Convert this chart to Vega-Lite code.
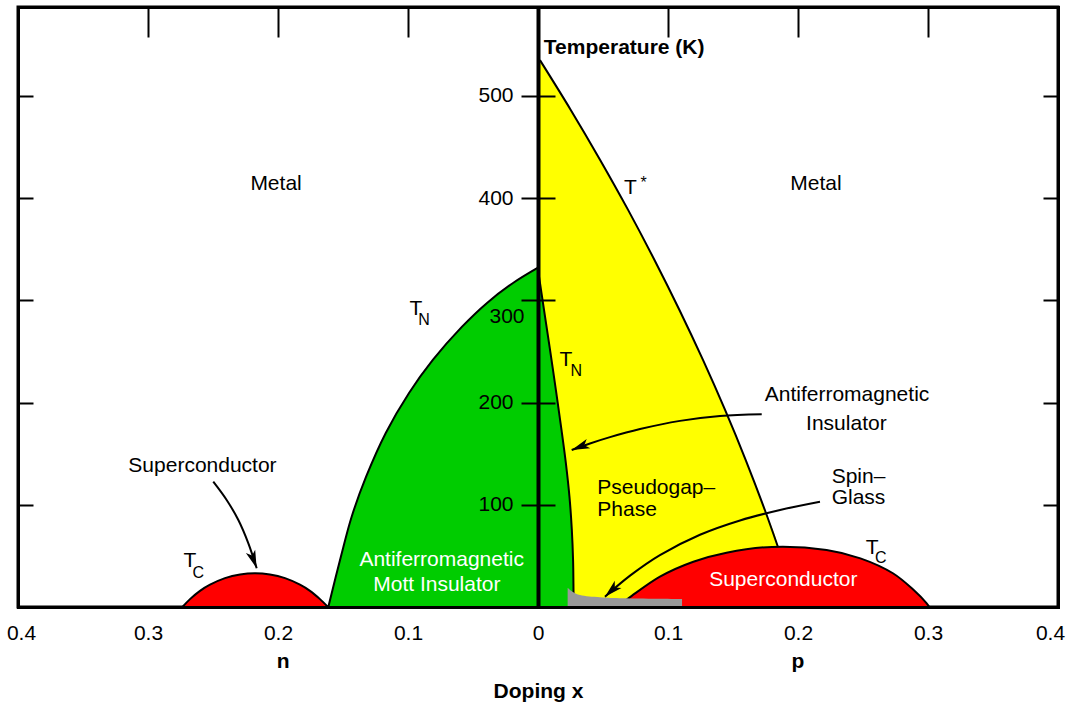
{
  "$schema": "https://vega.github.io/schema/vega-lite/v6.json",
  "width": 1040,
  "height": 600,
  "autosize": {"type": "none"},
  "padding": {"left": 18, "top": 7, "right": 12, "bottom": 100},
  "background": "white",
  "config": {
    "font": "Liberation Sans",
    "view": {"stroke": "black", "strokeWidth": 3},
    "axis": {"grid": false}
  },
  "datasets": {
    "curves": [
      {"c": "tnN", "x": -0.1613, "T": 0},
      {"c": "tnN", "x": -0.1517, "T": 48.9},
      {"c": "tnN", "x": -0.1434, "T": 88.1},
      {"c": "tnN", "x": -0.1323, "T": 127.2},
      {"c": "tnN", "x": -0.1171, "T": 170.3},
      {"c": "tnN", "x": -0.0992, "T": 209.4},
      {"c": "tnN", "x": -0.0809, "T": 241.7},
      {"c": "tnN", "x": -0.0586, "T": 274},
      {"c": "tnN", "x": -0.0392, "T": 297.5},
      {"c": "tnN", "x": -0.0192, "T": 317},
      {"c": "tnN", "x": 0, "T": 332},
      {"c": "scN", "x": -0.2735, "T": 0},
      {"c": "scN", "x": -0.2677, "T": 7.7},
      {"c": "scN", "x": -0.26, "T": 15.8},
      {"c": "scN", "x": -0.2523, "T": 21.8},
      {"c": "scN", "x": -0.2408, "T": 28.2},
      {"c": "scN", "x": -0.2292, "T": 31.8},
      {"c": "scN", "x": -0.2177, "T": 33},
      {"c": "scN", "x": -0.2062, "T": 31.8},
      {"c": "scN", "x": -0.1946, "T": 28.2},
      {"c": "scN", "x": -0.1831, "T": 21.8},
      {"c": "scN", "x": -0.1754, "T": 15.8},
      {"c": "scN", "x": -0.1677, "T": 7.7},
      {"c": "scN", "x": -0.1615, "T": 0},
      {"c": "scP", "x": 0.06, "T": 0},
      {"c": "scP", "x": 0.0695, "T": 8.5},
      {"c": "scP", "x": 0.0938, "T": 29.7},
      {"c": "scP", "x": 0.1195, "T": 44.3},
      {"c": "scP", "x": 0.145, "T": 53.1},
      {"c": "scP", "x": 0.18, "T": 58.8},
      {"c": "scP", "x": 0.222, "T": 55.8},
      {"c": "scP", "x": 0.248, "T": 47.6},
      {"c": "scP", "x": 0.273, "T": 33},
      {"c": "scP", "x": 0.289, "T": 16.6},
      {"c": "scP", "x": 0.299, "T": 3.6},
      {"c": "scP", "x": 0.301, "T": 0},
      {"c": "tstar", "x": 0.0015, "T": 535},
      {"c": "tstar", "x": 0.0252, "T": 486.3},
      {"c": "tstar", "x": 0.0478, "T": 437.4},
      {"c": "tstar", "x": 0.0693, "T": 388.5},
      {"c": "tstar", "x": 0.0896, "T": 339.5},
      {"c": "tstar", "x": 0.1088, "T": 290.6},
      {"c": "tstar", "x": 0.1269, "T": 241.7},
      {"c": "tstar", "x": 0.1439, "T": 192.8},
      {"c": "tstar", "x": 0.1598, "T": 143.8},
      {"c": "tstar", "x": 0.1745, "T": 94.9},
      {"c": "tstar", "x": 0.1846, "T": 58.7},
      {"c": "ybase", "x": 0.1846, "T": 0},
      {"c": "tnP", "x": 0, "T": 330},
      {"c": "tnP", "x": 0.0046, "T": 291},
      {"c": "tnP", "x": 0.0092, "T": 252},
      {"c": "tnP", "x": 0.0138, "T": 212},
      {"c": "tnP", "x": 0.0181, "T": 173},
      {"c": "tnP", "x": 0.0215, "T": 140},
      {"c": "tnP", "x": 0.0242, "T": 108},
      {"c": "tnP", "x": 0.026, "T": 76},
      {"c": "tnP", "x": 0.027, "T": 45},
      {"c": "tnP", "x": 0.0273, "T": 17},
      {"c": "tnP", "x": 0.0274, "T": 0},
      {"c": "sg", "x": 0.0228, "T": 18.9},
      {"c": "sg", "x": 0.0269, "T": 14.7},
      {"c": "sg", "x": 0.0323, "T": 11.7},
      {"c": "sg", "x": 0.0477, "T": 9.5},
      {"c": "sg", "x": 0.0654, "T": 8.5},
      {"c": "sg", "x": 0.1108, "T": 7.8}
    ],
    "arrows": [
      {"a": 1, "x": -0.2498, "T": 122.6},
      {"a": 1, "x": -0.2395, "T": 104.7},
      {"a": 1, "x": -0.2305, "T": 85.1},
      {"a": 1, "x": -0.2228, "T": 62.3},
      {"a": 1, "x": -0.2164, "T": 37.9},
      {"a": 2, "x": 0.1721, "T": 188.6},
      {"a": 2, "x": 0.14, "T": 186.9},
      {"a": 2, "x": 0.1092, "T": 182.1},
      {"a": 2, "x": 0.0785, "T": 174.1},
      {"a": 2, "x": 0.0554, "T": 166.2},
      {"a": 2, "x": 0.04, "T": 160},
      {"a": 2, "x": 0.0259, "T": 153.6},
      {"a": 3, "x": 0.2169, "T": 103},
      {"a": 3, "x": 0.1862, "T": 94.9},
      {"a": 3, "x": 0.1554, "T": 84.7},
      {"a": 3, "x": 0.1246, "T": 70.7},
      {"a": 3, "x": 0.0938, "T": 50.8},
      {"a": 3, "x": 0.0708, "T": 30.7},
      {"a": 3, "x": 0.0515, "T": 10.1}
    ],
    "heads": [
      {"a": 1, "x": -0.2164, "T": 37.9},
      {"a": 2, "x": 0.0259, "T": 153.6},
      {"a": 3, "x": 0.0515, "T": 10.1}
    ],
    "labels": [
      {"text": "Metal", "x": -0.2015, "T": 414, "k": "n"},
      {"text": "Metal", "x": 0.2138, "T": 414, "k": "n"},
      {"text": "T", "x": -0.0939, "T": 292, "k": "n"},
      {"text": "N", "x": -0.0877, "T": 281, "k": "s"},
      {"text": "T", "x": 0.0214, "T": 242, "k": "n"},
      {"text": "N", "x": 0.0295, "T": 231, "k": "s"},
      {"text": "T", "x": 0.071, "T": 410, "k": "n"},
      {"text": "*", "x": 0.0813, "T": 414.7, "k": "s"},
      {"text": "T", "x": -0.2677, "T": 45, "k": "n"},
      {"text": "C", "x": -0.2613, "T": 33, "k": "s"},
      {"text": "T", "x": 0.2571, "T": 58, "k": "n"},
      {"text": "C", "x": 0.2637, "T": 48, "k": "s"},
      {"text": "Superconductor", "x": -0.2581, "T": 138, "k": "n"},
      {"text": "Antiferromagnetic", "x": 0.2377, "T": 207, "k": "n"},
      {"text": "Insulator", "x": 0.2372, "T": 179, "k": "n"},
      {"text": "Pseudogap–", "x": 0.0456, "T": 116.7, "k": "l"},
      {"text": "Phase", "x": 0.0456, "T": 94.7, "k": "l"},
      {"text": "Spin–", "x": 0.2259, "T": 127.4, "k": "l"},
      {"text": "Glass", "x": 0.2259, "T": 106.2, "k": "l"},
      {"text": "Superconductor", "x": 0.1887, "T": 26.2, "k": "w"},
      {"text": "Antiferromagnetic", "x": -0.0741, "T": 45.8, "k": "w"},
      {"text": "Mott Insulator", "x": -0.0778, "T": 21.3, "k": "w"},
      {"text": "Temperature (K)", "x": 0.0045, "T": 547, "k": "bl"},
      {"text": "n", "x": -0.196, "T": -53.8, "k": "b"},
      {"text": "p", "x": 0.2, "T": -53.8, "k": "b"}
    ]
  },
  "encoding": {
    "x": {"field": "x", "type": "quantitative", "scale": {"domain": [-0.4, 0.4], "nice": false, "zero": false}, "axis": null},
    "y": {"field": "T", "type": "quantitative", "scale": {"domain": [0, 587], "nice": false, "zero": false}, "axis": null}
  },
  "layer": [
    {
      "data": {"name": "curves"},
      "transform": [{"filter": "datum.c === 'tstar' || datum.c === 'ybase'"}],
      "mark": {"type": "area", "orient": "horizontal", "color": "#ffff00", "opacity": 1, "interpolate": "catmull-rom"},
      "encoding": {
        "x": {"field": "x", "type": "quantitative", "scale": {"domain": [-0.4, 0.4], "nice": false, "zero": false},
          "axis": {"orient": "bottom", "values": [-0.4, -0.3, -0.2, -0.1, 0, 0.1, 0.2, 0.3, 0.4],
            "labelExpr": "abs(datum.value) < 0.001 ? '0' : format(abs(datum.value), '.1f')",
            "ticks": false, "domain": true, "domainColor": "black", "domainWidth": 3, "domainCap": "square",
            "labelFont": "Liberation Sans", "labelFontSize": 21, "labelColor": "black", "labelPadding": 15,
            "labelOffset": {"condition": [{"test": "datum.value < -0.35", "value": 3}, {"test": "datum.value > 0.35", "value": -8}], "value": 0},
            "labelFlush": false, "labelOverlap": false, "grid": false,
            "title": "Doping x", "titleFont": "Liberation Sans", "titleFontSize": 21, "titleFontWeight": "bold",
            "titleColor": "black", "titlePadding": 37, "zindex": 2}},
        "y": {"field": "T", "type": "quantitative", "scale": {"domain": [0, 587], "nice": false, "zero": false},
          "axis": {"orient": "left", "offset": -520, "values": [100, 200, 300, 400, 500],
            "ticks": true, "tickSize": 17, "tickWidth": 2, "tickColor": "black",
            "domain": true, "domainWidth": 4, "domainColor": "black",
            "labelFont": "Liberation Sans", "labelFontSize": 21, "labelColor": "black",
            "labelPadding": {"condition": {"test": "datum.value === 300", "value": -3}, "value": 8},
            "labelOffset": {"condition": {"test": "datum.value === 300", "value": 16}, "value": 0},
            "labelOverlap": false, "grid": false, "title": null, "zindex": 2}},
        "x2": {"datum": 0}
      }
    },
    {
      "data": {"name": "curves"},
      "transform": [{"filter": "datum.c === 'tnN'"}],
      "mark": {"type": "area", "color": "#00cc00", "opacity": 1, "interpolate": "catmull-rom"},
      "encoding": {
        "x": {"field": "x", "type": "quantitative", "scale": {"domain": [-0.4, 0.4], "nice": false, "zero": false},
          "axis": {"orient": "top", "values": [-0.3, -0.2, -0.1, 0.1, 0.2, 0.3], "labels": false,
            "ticks": true, "tickSize": -30, "tickWidth": 2, "tickColor": "black",
            "domain": true, "domainWidth": 3, "domainColor": "black", "domainCap": "square",
            "grid": false, "title": null, "zindex": 2}},
        "y": {"field": "T", "type": "quantitative", "scale": {"domain": [0, 587], "nice": false, "zero": false},
          "axis": {"orient": "right", "offset": -520, "values": [100, 200, 300, 400, 500], "labels": false,
            "ticks": true, "tickSize": 17, "tickWidth": 2, "tickColor": "black",
            "domain": false, "grid": false, "title": null, "zindex": 2}},
        "y2": {"datum": 0}
      }
    },
    {
      "data": {"name": "curves"},
      "transform": [{"filter": "datum.c === 'tnP'"}],
      "mark": {"type": "area", "orient": "horizontal", "color": "#00cc00", "opacity": 1, "interpolate": "catmull-rom"},
      "encoding": {
        "y": {"field": "T", "type": "quantitative", "scale": {"domain": [0, 587], "nice": false, "zero": false},
          "axis": {"orient": "left", "values": [100, 200, 300, 400, 500], "labels": false,
            "ticks": true, "tickSize": -15, "tickWidth": 2, "tickColor": "black",
            "domain": true, "domainWidth": 3, "domainColor": "black", "domainCap": "square",
            "grid": false, "title": null, "zindex": 2}},
        "x2": {"datum": 0}
      }
    },
    {
      "data": {"name": "curves"},
      "transform": [{"filter": "datum.c === 'scN'"}],
      "mark": {"type": "area", "color": "#ff0000", "opacity": 1, "interpolate": "catmull-rom"},
      "encoding": {
        "y": {"field": "T", "type": "quantitative", "scale": {"domain": [0, 587], "nice": false, "zero": false},
          "axis": {"orient": "right", "values": [100, 200, 300, 400, 500], "labels": false,
            "ticks": true, "tickSize": -15, "tickWidth": 2, "tickColor": "black",
            "domain": true, "domainWidth": 3, "domainColor": "black", "domainCap": "square",
            "grid": false, "title": null, "zindex": 2}},
        "y2": {"datum": 0}
      }
    },
    {
      "data": {"name": "curves"},
      "transform": [{"filter": "datum.c === 'scP'"}],
      "mark": {"type": "area", "color": "#ff0000", "opacity": 1, "interpolate": "catmull-rom"},
      "encoding": {"y2": {"datum": 0}}
    },
    {
      "data": {"name": "curves"},
      "transform": [{"filter": "datum.c === 'tnN' || datum.c === 'scN' || datum.c === 'scP'"}],
      "mark": {"type": "line", "color": "black", "strokeWidth": 2, "interpolate": "catmull-rom"},
      "encoding": {"detail": {"field": "c"}}
    },
    {
      "data": {"name": "curves"},
      "transform": [{"filter": "datum.c === 'tstar' || datum.c === 'tnP'"}],
      "mark": {"type": "line", "orient": "horizontal", "color": "black", "strokeWidth": 2, "interpolate": "catmull-rom"},
      "encoding": {"detail": {"field": "c"}}
    },
    {
      "data": {"name": "curves"},
      "transform": [{"filter": "datum.c === 'sg'"}],
      "mark": {"type": "area", "color": "#999999", "opacity": 1, "interpolate": "catmull-rom"},
      "encoding": {"y2": {"datum": 0}}
    },
    {
      "data": {"name": "arrows"},
      "mark": {"type": "line", "color": "black", "strokeWidth": 2, "interpolate": "catmull-rom"},
      "encoding": {"detail": {"field": "a"}}
    },
    {
      "data": {"name": "heads"},
      "transform": [{"filter": "datum.a === 1"}],
      "mark": {"type": "point", "shape": "M0,0L0.55,2L0,1.5L-0.55,2Z", "size": 324, "angle": 160, "filled": true, "color": "black", "opacity": 1, "strokeWidth": 0}
    },
    {
      "data": {"name": "heads"},
      "transform": [{"filter": "datum.a === 2"}],
      "mark": {"type": "point", "shape": "M0,0L0.55,2L0,1.5L-0.55,2Z", "size": 324, "angle": 249, "filled": true, "color": "black", "opacity": 1, "strokeWidth": 0}
    },
    {
      "data": {"name": "heads"},
      "transform": [{"filter": "datum.a === 3"}],
      "mark": {"type": "point", "shape": "M0,0L0.55,2L0,1.5L-0.55,2Z", "size": 324, "angle": 227, "filled": true, "color": "black", "opacity": 1, "strokeWidth": 0}
    },
    {
      "data": {"name": "labels"},
      "transform": [{"filter": "datum.k === 'n'"}],
      "mark": {"type": "text", "font": "Liberation Sans", "fontSize": 21, "color": "black", "align": "center", "baseline": "middle"},
      "encoding": {"text": {"field": "text"}}
    },
    {
      "data": {"name": "labels"},
      "transform": [{"filter": "datum.k === 'l'"}],
      "mark": {"type": "text", "font": "Liberation Sans", "fontSize": 21, "color": "black", "align": "left", "baseline": "middle"},
      "encoding": {"text": {"field": "text"}}
    },
    {
      "data": {"name": "labels"},
      "transform": [{"filter": "datum.k === 'w'"}],
      "mark": {"type": "text", "font": "Liberation Sans", "fontSize": 21, "color": "white", "align": "center", "baseline": "middle"},
      "encoding": {"text": {"field": "text"}}
    },
    {
      "data": {"name": "labels"},
      "transform": [{"filter": "datum.k === 's'"}],
      "mark": {"type": "text", "font": "Liberation Sans", "fontSize": 16, "color": "black", "align": "center", "baseline": "middle"},
      "encoding": {"text": {"field": "text"}}
    },
    {
      "data": {"name": "labels"},
      "transform": [{"filter": "datum.k === 'b'"}],
      "mark": {"type": "text", "font": "Liberation Sans", "fontSize": 21, "fontWeight": "bold", "color": "black", "align": "center", "baseline": "middle"},
      "encoding": {"text": {"field": "text"}}
    },
    {
      "data": {"name": "labels"},
      "transform": [{"filter": "datum.k === 'bl'"}],
      "mark": {"type": "text", "font": "Liberation Sans", "fontSize": 21, "fontWeight": "bold", "color": "black", "align": "left", "baseline": "middle"},
      "encoding": {"text": {"field": "text"}}
    }
  ],
  "resolve": {"axis": {"x": "independent", "y": "independent"}}
}
